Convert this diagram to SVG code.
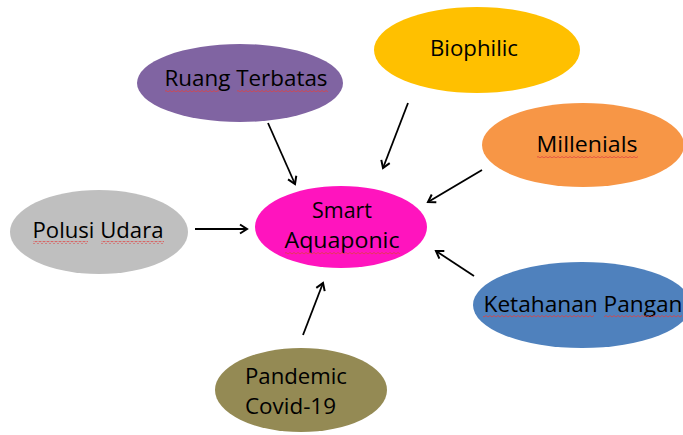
<svg xmlns="http://www.w3.org/2000/svg" width="683" height="435" viewBox="0 0 683 435">
<defs>
<marker id="ah" markerWidth="12" markerHeight="12" refX="9" refY="6" orient="auto" markerUnits="userSpaceOnUse">
<path d="M2,1.5 L9,6 L2,10.5" fill="none" stroke="#000" stroke-width="2"/>
</marker>
<pattern id="sq" width="4" height="3" patternUnits="userSpaceOnUse">
<path d="M0,2 L2,0.5 L4,2" fill="none" stroke="#E04040" stroke-width="0.8"/>
</pattern>
</defs>
<style>
text{font-family:"Open Sans","Noto Sans","Liberation Sans",sans-serif;font-size:22px;fill:#000}
.c{text-anchor:middle}
.conn line{stroke:#000;stroke-width:1.8;marker-end:url(#ah)}
.sq{fill:url(#sq)}
</style>
<rect width="683" height="435" fill="#fff"/>
<g id="ruang">
<ellipse cx="240" cy="83" rx="103" ry="39" fill="#8064A2"/>
<text x="246" y="86" class="c" textLength="163" lengthAdjust="spacingAndGlyphs">Ruang Terbatas</text>
<rect class="sq" x="165" y="89" width="54" height="3"/>
<rect class="sq" x="237" y="89" width="91" height="3"/>
</g>
<g id="biophilic">
<ellipse cx="477" cy="50" rx="103" ry="43" fill="#FFC000"/>
<text x="474" y="56" class="c" textLength="88" lengthAdjust="spacingAndGlyphs">Biophilic</text>
</g>
<g id="millenials">
<ellipse cx="583" cy="145" rx="101" ry="42" fill="#F79646"/>
<text x="587" y="152" class="c" textLength="101" lengthAdjust="spacingAndGlyphs">Millenials</text>
<rect class="sq" x="537" y="155" width="101" height="3"/>
</g>
<g id="smart">
<ellipse cx="341" cy="227" rx="86" ry="41" fill="#FF14BE"/>
<text x="342" y="218" class="c" textLength="60" lengthAdjust="spacingAndGlyphs">Smart</text>
<text x="342" y="248" class="c" textLength="115" lengthAdjust="spacingAndGlyphs">Aquaponic</text>
<rect class="sq" x="285" y="252" width="115" height="3"/>
</g>
<g id="polusi">
<ellipse cx="99" cy="232" rx="89" ry="42" fill="#BFBFBF"/>
<text x="98" y="238" class="c" textLength="131" lengthAdjust="spacingAndGlyphs">Polusi Udara</text>
<rect class="sq" x="33" y="241" width="55" height="3"/>
<rect class="sq" x="101" y="241" width="63" height="3"/>
</g>
<g id="ketahanan">
<ellipse cx="582" cy="305" rx="109" ry="43" fill="#4F81BD"/>
<text x="583" y="312" class="c" textLength="199" lengthAdjust="spacingAndGlyphs">Ketahanan Pangan</text>
<rect class="sq" x="483" y="315" width="111" height="3"/>
<rect class="sq" x="604" y="315" width="78" height="3"/>
</g>
<g id="pandemic">
<ellipse cx="301" cy="390" rx="86" ry="42" fill="#948A54"/>
<text x="245" y="384" textLength="102" lengthAdjust="spacingAndGlyphs">Pandemic</text>
<text x="245" y="414" textLength="91" lengthAdjust="spacingAndGlyphs">Covid-19</text>
</g>
<g id="connectors" class="conn">
<line x1="268" y1="123" x2="295" y2="184"/>
<line x1="408" y1="103" x2="383" y2="168"/>
<line x1="482" y1="170" x2="428" y2="202"/>
<line x1="195" y1="229" x2="247" y2="229"/>
<line x1="474" y1="276" x2="436" y2="251"/>
<line x1="303" y1="335" x2="323" y2="283"/>
</g>
</svg>
